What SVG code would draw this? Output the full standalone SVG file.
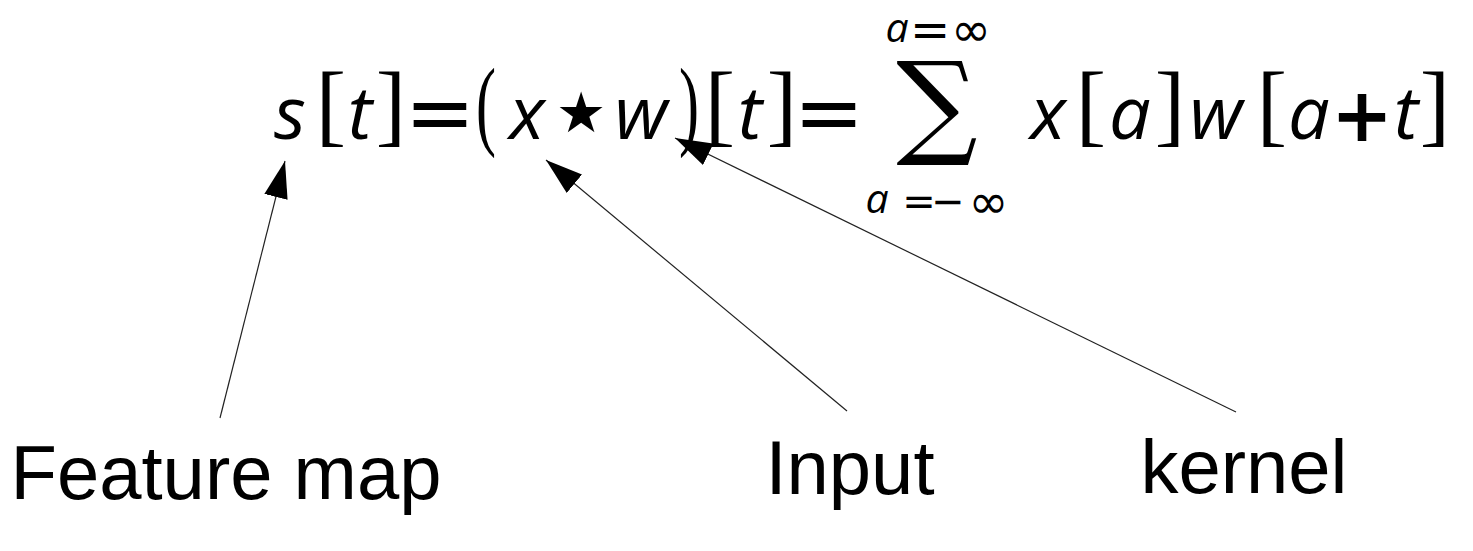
<svg xmlns="http://www.w3.org/2000/svg" width="1473" height="551" viewBox="0 0 1473 551">
<style>
.v{font-family:"Open Sans","Noto Sans",sans-serif;font-style:italic;font-size:74px;fill:#000;text-anchor:middle}
.vs{font-family:"Open Sans","Noto Sans",sans-serif;font-style:italic;font-size:41px}
.br{font-family:"Liberation Serif","DejaVu Serif",serif;font-size:91px;fill:#000;text-anchor:middle}
.pa{font-family:"Liberation Serif","DejaVu Serif",serif;font-size:100px;fill:#000;text-anchor:middle}
.op{font-family:"DejaVu Sans",sans-serif;font-size:84px;fill:#000;text-anchor:middle}
.lim{font-family:"DejaVu Sans",sans-serif;font-size:48px;fill:#000;text-anchor:middle}
.sm{font-size:40px}
.st{font-family:"DejaVu Sans",sans-serif;font-size:56px;fill:#000;text-anchor:middle}
.pl{font-family:"DejaVu Sans",sans-serif;font-weight:bold;font-size:74px;fill:#000;text-anchor:middle}
.sum{font-family:"DejaVu Serif",serif;font-size:114px;fill:#000;text-anchor:middle}
.lb{font-family:"Liberation Sans",Arial,sans-serif;font-size:76px;fill:#000;text-anchor:middle}
.cn{stroke:#222;stroke-width:1.2;fill:none;marker-end:url(#ah)}
</style>
<defs>
<marker id="ah" markerWidth="40" markerHeight="24" refX="37" refY="12" orient="auto" markerUnits="userSpaceOnUse">
<path d="M0,0 L37,12 L0,24 z" fill="#000"/>
</marker>
</defs>
<g id="formula">
<text class="v" x="290" y="139">s</text>
<text class="br" x="331" y="135">[</text>
<text class="v" x="360" y="139">t</text>
<text class="br" x="391" y="135">]</text>
<text class="op" x="440" y="140.5">=</text>
<text class="pa" x="486" y="137" textLength="20" lengthAdjust="spacingAndGlyphs">(</text>
<text class="v" x="527" y="139">x</text>
<text class="st" x="581" y="131.5">★</text>
<text class="v" x="641" y="139">w</text>
<text class="pa" x="689" y="137" textLength="20" lengthAdjust="spacingAndGlyphs">)</text>
<text class="br" x="720" y="135">[</text>
<text class="v" x="750" y="139">t</text>
<text class="br" x="782" y="135">]</text>
<text class="op" x="829" y="140.5">=</text>
<text class="sum" x="937" y="143">∑</text>
<text class="lim"><tspan class="vs" x="897" y="42">a</tspan><tspan x="930" y="46">=</tspan><tspan x="971" y="46">∞</tspan></text>
<text class="lim"><tspan class="vs" x="877" y="213">a</tspan><tspan class="sm" x="919" y="214.5">=</tspan><tspan class="sm" x="948" y="214.5">−</tspan><tspan x="988.5" y="218">∞</tspan></text>
<text class="v" x="1048" y="139">x</text>
<text class="br" x="1091" y="135">[</text>
<text class="v" x="1130" y="139">a</text>
<text class="br" x="1170" y="135">]</text>
<text class="v" x="1216" y="139">w</text>
<text class="br" x="1272" y="135">[</text>
<text class="v" x="1309" y="139">a</text>
<text class="pl" x="1362" y="141">+</text>
<text class="v" x="1406" y="139">t</text>
<text class="br" x="1435" y="135">]</text>
</g>
<g id="feature-map"><text class="lb" x="226" y="499">Feature map</text></g>
<g id="input"><text class="lb" x="850" y="494">Input</text></g>
<g id="kernel"><text class="lb" x="1244" y="493">kernel</text></g>
<g id="connectors">
<line class="cn" x1="220" y1="418" x2="285" y2="161"/>
<line class="cn" x1="847" y1="411" x2="546" y2="160"/>
<line class="cn" x1="1236" y1="412" x2="675" y2="138"/>
</g>
</svg>
